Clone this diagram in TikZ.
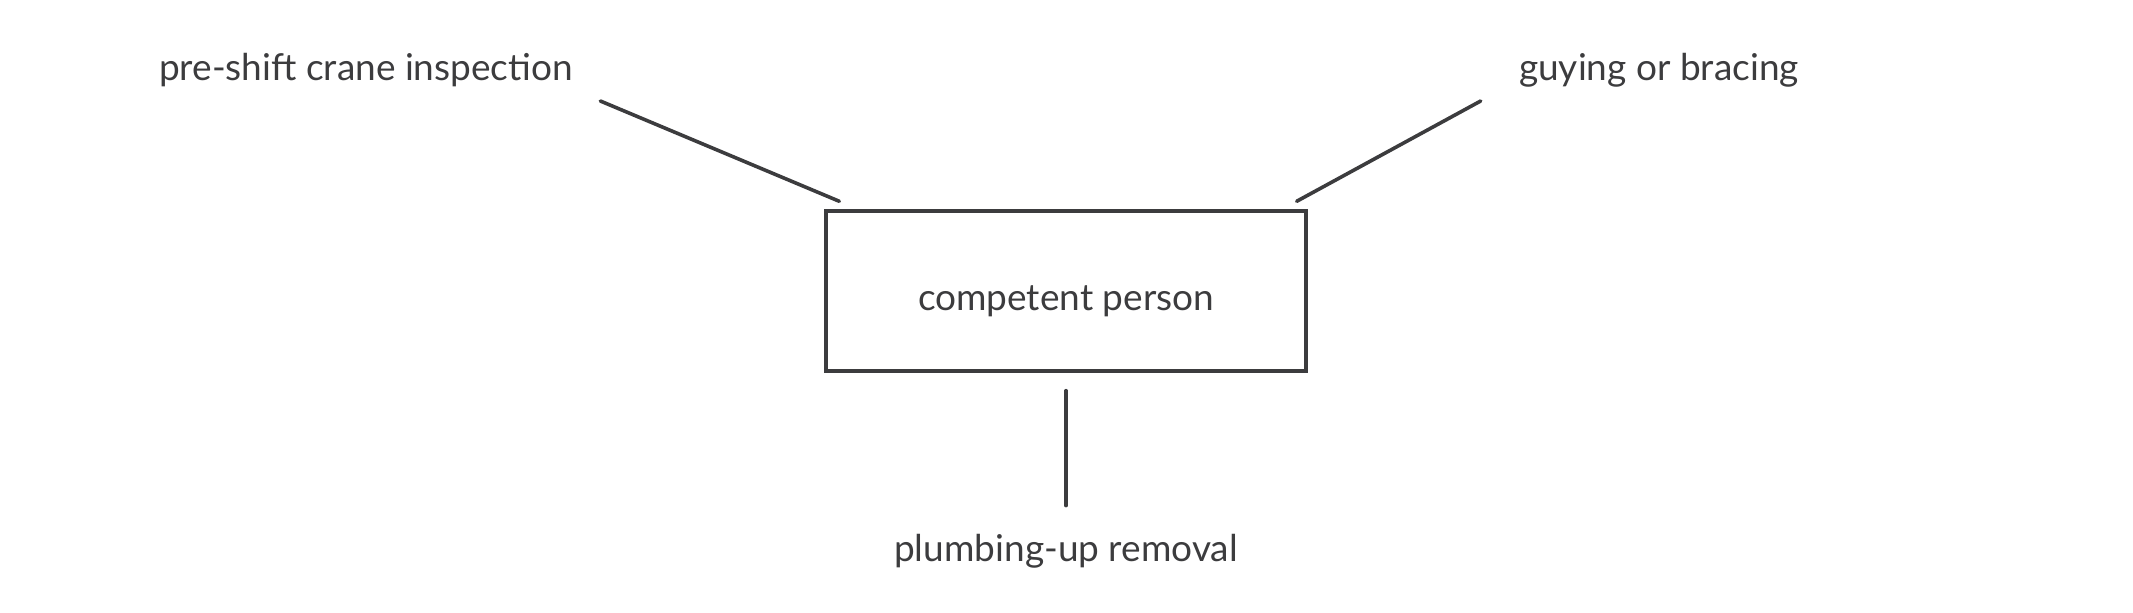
\documentclass[tikz,border=0pt]{standalone}
\usepackage{fontspec}
\setmainfont{Lato}
\usepackage{tikz}
\usetikzlibrary{positioning}
\definecolor{ink}{HTML}{3C3C3E}
\tikzstyle{block} = [draw=ink, line width=1.7pt, fill=white, rectangle, minimum width=240pt, minimum height=80pt, text height=24pt, text depth=4pt]
\tikzstyle{note} = [text=ink, inner sep=0pt, font=\fontsize{18.5}{22}\selectfont]
\tikzstyle{link} = [draw=ink, line width=1.8pt, line cap=round]

\begin{document}
\begin{tikzpicture}[x=0.5pt, y=-0.5pt]
    \useasboundingbox (0,0) rectangle (2133,613);
    \node [block, note] (comp) at (1066,291) {competent person};
    \node [note] (pre) at (366,70) {pre-shift crane inspection};
    \node [note] (guy) at (1659,70) {guying or bracing};
    \node [note] (plumb) at (1066,551) {plumbing-up removal};
    \draw [link] ([shift={(27,31)}]pre.east) -- ([shift={(15,-8)}]comp.north west);
    \draw [link] ([shift={(-38,31)}]guy.west) -- ([shift={(-11,-8)}]comp.north east);
    \draw [link] ([shift={(0,18)}]comp.south) -- ([shift={(0,-28)}]plumb.north);
\end{tikzpicture}
\end{document}
